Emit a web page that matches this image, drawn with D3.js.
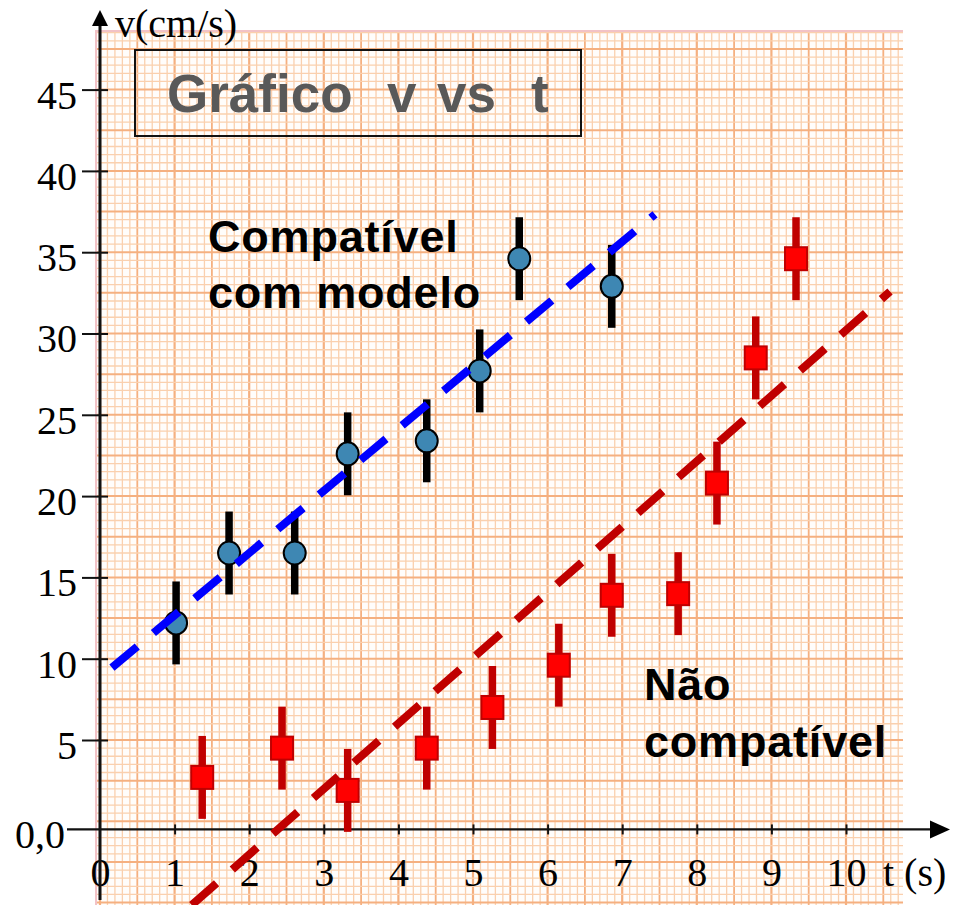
<!DOCTYPE html>
<html>
<head>
<meta charset="utf-8">
<script src="https://cdn.jsdelivr.net/npm/d3@7"></script>
<style>
  body { margin: 0; background: #fff; }
  svg { display: block; }
</style>
</head>
<body>
<svg id="chart" width="959" height="905"></svg>
<script>
// valores (t em s, v em cm/s)
const tCompat = [1.02, 1.73, 2.61, 3.32, 4.38, 5.09, 5.62, 6.86];
const vCompat = [12.2, 16.5, 16.5, 22.6, 23.4, 27.7, 34.6, 32.9];

const tNao = [1.37, 2.44, 3.32, 4.38, 5.26, 6.15, 6.86, 7.75, 8.27, 8.79, 9.33];
const vNao = [2.7, 4.5, 1.9, 4.5, 7.0, 9.6, 13.9, 14.0, 20.8, 28.5, 34.6];

const erroV = 2.55; // barra de erro (+/-)

// retas tracejadas: [t, v] das pontas
const retaCompat = [[0.16, 9.45], [7.44, 37.33]];
const retaNao = [[1.23, -5.15], [10.59, 32.58]];

const tTicks = [0, 1, 2, 3, 4, 5, 6, 7, 8, 9, 10];
const vTicks = [5, 10, 15, 20, 25, 30, 35, 40, 45];

const svg = d3.select('#chart');

const x = d3.scaleLinear().domain([0, 10]).range([100, 846]);
const y = d3.scaleLinear().domain([0, 45]).range([821.3, 89.6]);
const eixoV = -0.5; // o eixo t foi desenhado um pouco abaixo do zero

const serif = '"Liberation Serif", "Times New Roman", serif';
const sans = '"Liberation Sans", Arial, sans-serif';

// papel milimetrado
const papel = svg.append('g');
papel.append('rect')
    .attr('x', 95).attr('y', 30)
    .attr('width', 808).attr('height', 875)
    .attr('fill', '#fffdfb');

const colunas = d3.range(0, 108);
const linhas = d3.range(-10, 98);

papel.append('g').selectAll('line')
    .data(colunas)
    .enter()
    .append('line')
    .attr('x1', function (i) { return x(i / 10); })
    .attr('x2', function (i) { return x(i / 10); })
    .attr('y1', 30).attr('y2', 905)
    .attr('stroke', function (i) { return i % 5 === 0 ? '#f5b080' : '#fad0ae'; })
    .attr('stroke-width', function (i) { return i % 10 === 0 ? 2.2 : (i % 5 === 0 ? 1.8 : 1.3); });

papel.append('g').selectAll('line')
    .data(linhas)
    .enter()
    .append('line')
    .attr('y1', function (i) { return y(i / 2); })
    .attr('y2', function (i) { return y(i / 2); })
    .attr('x1', 95).attr('x2', 903)
    .attr('stroke', function (i) { return i % 5 === 0 ? '#f5b080' : '#fad0ae'; })
    .attr('stroke-width', function (i) { return i % 5 === 0 ? 2 : 1.3; });

papel.append('line')
    .attr('x1', 96).attr('x2', 96).attr('y1', 30).attr('y2', 905)
    .attr('stroke', '#f2c2c6').attr('stroke-width', 2);
papel.append('line')
    .attr('x1', 95).attr('x2', 903).attr('y1', 31).attr('y2', 31)
    .attr('stroke', '#f2c2c6').attr('stroke-width', 2);

// caixa do título
svg.append('rect')
    .attr('x', 135).attr('y', 50)
    .attr('width', 446).attr('height', 86)
    .attr('fill', 'none')
    .attr('stroke', '#111')
    .attr('stroke-width', 2);

const titulo = svg.append('text')
    .attr('y', 112)
    .attr('font-family', sans)
    .attr('font-weight', 'bold')
    .attr('font-size', 53)
    .attr('fill', '#595959');
[['Gráfico', 167], ['v', 387], ['vs', 437], ['t', 531]].forEach(function (p) {
    titulo.append('tspan').attr('x', p[1]).text(p[0]);
});

// eixos
const y0 = y(eixoV);

const eixoX = svg.append('g')
    .attr('transform', 'translate(0,' + y0 + ')')
    .call(d3.axisBottom(x).tickValues(tTicks).tickSize(5).tickPadding(23));
eixoX.select('.domain').remove();
eixoX.selectAll('.tick line').attr('y1', -5).attr('stroke', '#111').attr('stroke-width', 2);
eixoX.selectAll('.tick text')
    .attr('font-family', serif)
    .attr('font-size', 40)
    .attr('fill', '#000');
eixoX.selectAll('.tick').filter(function (d) { return d === 0; }).select('line').remove();

const eixoY = svg.append('g')
    .attr('transform', 'translate(' + x(0) + ',0)')
    .call(d3.axisLeft(y).tickValues(vTicks).tickSize(18).tickPadding(5));
eixoY.select('.domain').remove();
eixoY.selectAll('.tick line').attr('x2', 8).attr('x1', -18).attr('stroke', '#111').attr('stroke-width', 2);
eixoY.selectAll('.tick text')
    .attr('font-family', serif)
    .attr('font-size', 40)
    .attr('fill', '#000')
    .attr('dy', '0.46em');

svg.append('line')
    .attr('x1', 67).attr('x2', 934)
    .attr('y1', y0).attr('y2', y0)
    .attr('stroke', '#111').attr('stroke-width', 2.2);
svg.append('path')
    .attr('d', 'M950,' + y0 + 'L930,' + (y0 - 9) + 'L930,' + (y0 + 9) + 'Z')
    .attr('fill', '#000');

svg.append('line')
    .attr('x1', x(0)).attr('x2', x(0))
    .attr('y1', 900).attr('y2', 22)
    .attr('stroke', '#111').attr('stroke-width', 3);
svg.append('path')
    .attr('d', 'M' + x(0) + ',10L' + (x(0) - 8) + ',26L' + (x(0) + 8) + ',26Z')
    .attr('fill', '#000');

svg.append('text')
    .attr('x', 65).attr('y', y0).attr('dy', '0.46em')
    .attr('text-anchor', 'end')
    .attr('font-family', serif).attr('font-size', 40)
    .text('0,0');

svg.append('text')
    .attr('x', 115).attr('y', 37)
    .attr('font-family', serif).attr('font-size', 40)
    .text('v(cm/s)');

svg.append('text')
    .attr('x', 883).attr('y', 886)
    .attr('font-family', serif).attr('font-size', 40)
    .text('t (s)');

// pontos compatíveis
const compat = tCompat.map(function (t, i) { return { t: t, v: vCompat[i] }; });
const nao = tNao.map(function (t, i) { return { t: t, v: vNao[i] }; });

svg.append('g').selectAll('line')
    .data(compat)
    .enter()
    .append('line')
    .attr('x1', function (d) { return x(d.t); })
    .attr('x2', function (d) { return x(d.t); })
    .attr('y1', function (d) { return y(d.v - erroV); })
    .attr('y2', function (d) { return y(d.v + erroV); })
    .attr('stroke', '#000')
    .attr('stroke-width', 7.5);

svg.append('g').selectAll('ellipse')
    .data(compat)
    .enter()
    .append('ellipse')
    .attr('cx', function (d) { return x(d.t); })
    .attr('cy', function (d) { return y(d.v); })
    .attr('rx', 11)
    .attr('ry', 11.5)
    .attr('fill', '#3e87b3')
    .attr('stroke', '#000')
    .attr('stroke-width', 2);

// pontos não compatíveis
svg.append('g').selectAll('line')
    .data(nao)
    .enter()
    .append('line')
    .attr('x1', function (d) { return x(d.t); })
    .attr('x2', function (d) { return x(d.t); })
    .attr('y1', function (d) { return y(d.v - erroV); })
    .attr('y2', function (d) { return y(d.v + erroV); })
    .attr('stroke', '#c00000')
    .attr('stroke-width', 7.5);

svg.append('g').selectAll('rect')
    .data(nao)
    .enter()
    .append('rect')
    .attr('x', function (d) { return x(d.t) - 11; })
    .attr('y', function (d) { return y(d.v) - 11.5; })
    .attr('width', 22)
    .attr('height', 23)
    .attr('fill', '#ff0000')
    .attr('stroke', '#c00000')
    .attr('stroke-width', 2);

// retas
const reta = d3.line()
    .x(function (d) { return x(d[0]); })
    .y(function (d) { return y(d[1]); });

svg.append('path')
    .attr('d', reta(retaCompat))
    .attr('fill', 'none')
    .attr('stroke', '#0000ff')
    .attr('stroke-width', 8)
    .attr('stroke-dasharray', '33 21');

svg.append('path')
    .attr('d', reta(retaNao))
    .attr('fill', 'none')
    .attr('stroke', '#c00000')
    .attr('stroke-width', 8)
    .attr('stroke-dasharray', '33 21');

// rótulos
const rotulo1 = svg.append('text')
    .attr('font-family', sans)
    .attr('font-weight', 'bold')
    .attr('font-size', 45)
    .attr('letter-spacing', 0.8)
    .attr('fill', '#000');
rotulo1.append('tspan').attr('x', 208).attr('y', 252).text('Compatível');
rotulo1.append('tspan').attr('x', 208).attr('y', 308).text('com modelo');

const rotulo2 = svg.append('text')
    .attr('font-family', sans)
    .attr('font-weight', 'bold')
    .attr('font-size', 45)
    .attr('letter-spacing', 0.8)
    .attr('fill', '#000');
rotulo2.append('tspan').attr('x', 644).attr('y', 700).text('Não');
rotulo2.append('tspan').attr('x', 644).attr('y', 757).text('compatível');
</script>
</body>
</html>
